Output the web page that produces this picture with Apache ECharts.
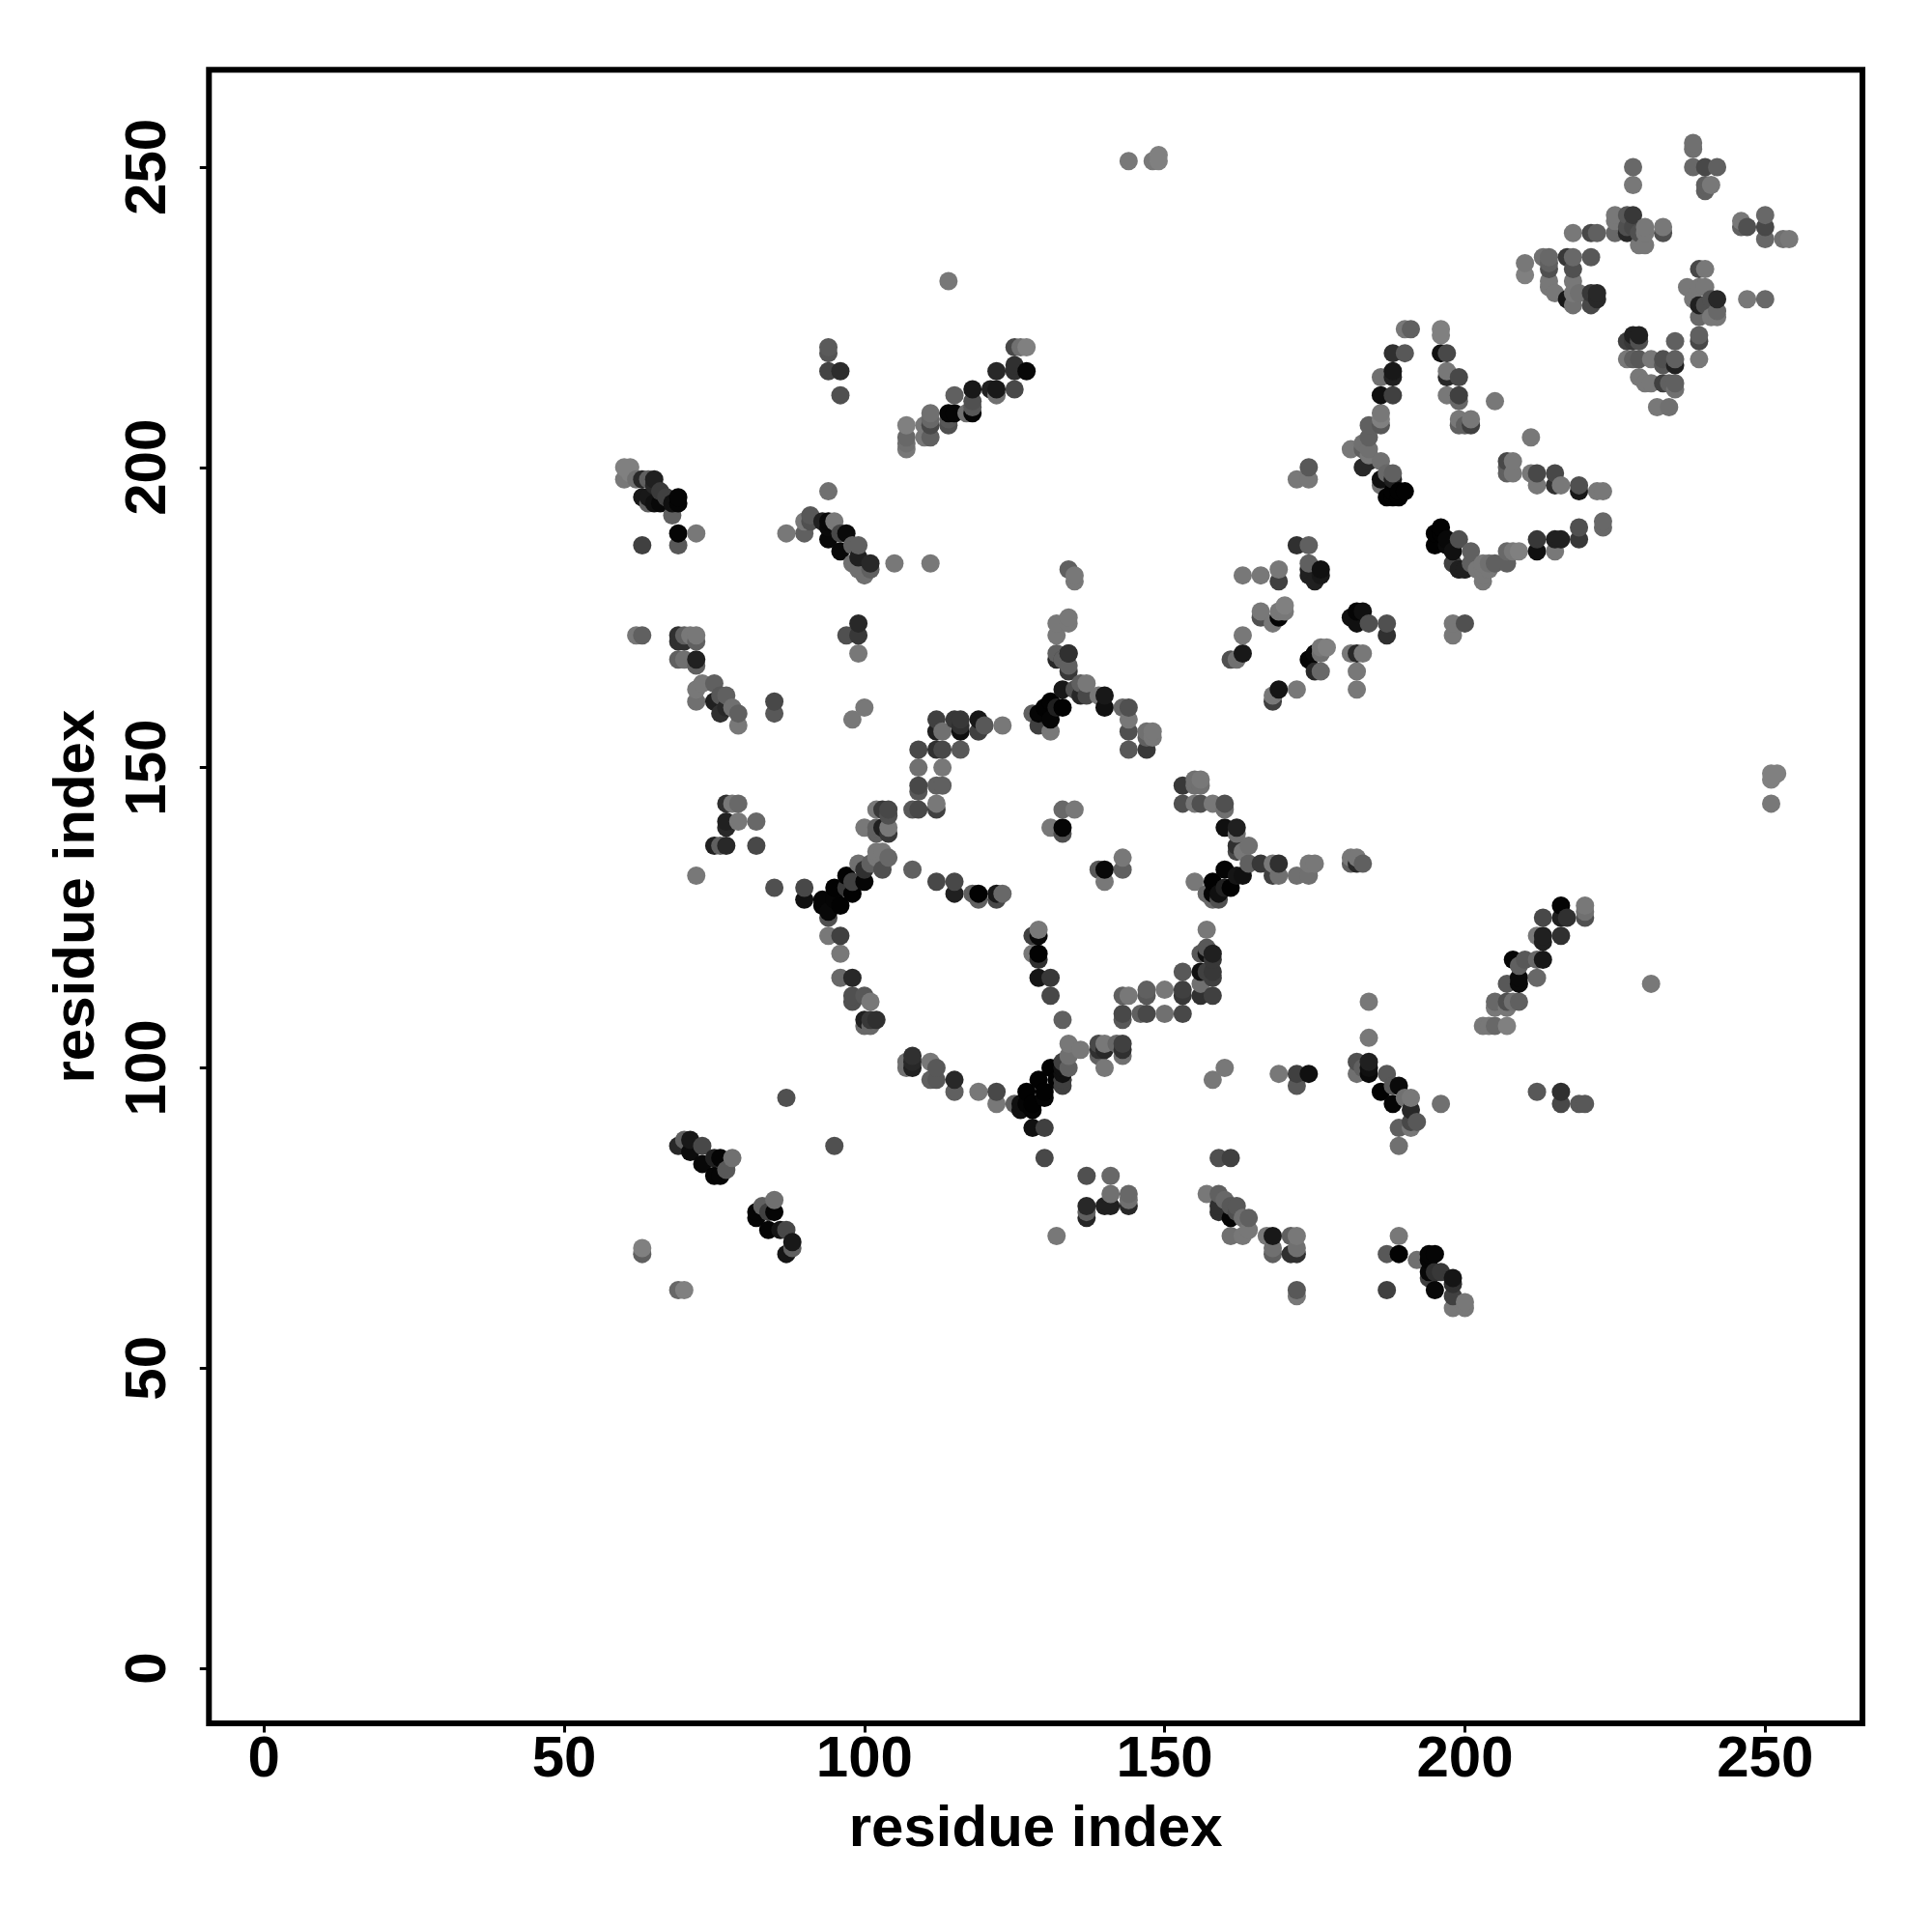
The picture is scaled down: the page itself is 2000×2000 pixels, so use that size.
<!DOCTYPE html>
<html><head><meta charset="utf-8">
<style>html,body{margin:0;background:#fff}#c{width:2000px;height:2000px}</style>
<script src="https://cdn.jsdelivr.net/npm/echarts@6/dist/echarts.min.js"></script>
</head><body><div id="c"></div>
<script>
const axisName = 'residue index';
const tickValues = [0, 50, 100, 150, 200, 250];

const residueX = [
114,94,94,94,96,96,125,126,127,122,
125,125,127,118,115,121,122,125,122,114,
115,118,118,118,117,111,111,111,114,114,
107,110,107,107,107,110,111,
60,61,60,61,62,63,64,65,65,66,
63,64,65,66,67,68,69,69,68,69,
72,63,69,64,
94,87,90,90,91,91,93,94,95,94,
94,96,97,96,98,99,98,99,101,101,
99,100,105,111,
144,148,149,149,210,210,190,191,196,196,
188,190,196,197,188,188,186,186,188,197,
197,199,197,199,199,205,199,199,200,201,
201,186,186,186,184,184,184,183,181,183,
183,184,184,186,188,187,186,188,186,190,
189,188,187,188,189,174,172,174,
196,195,195,196,197,197,199,198,201,207,
208,209,212,212,207,200,
238,238,238,240,242,240,241,240,228,228,
218,221,222,225,225,225,227,228,227,227,
228,229,230,230,229,230,233,233,
246,246,247,250,250,250,253,254,
213,214,214,214,214,214,215,
217,218,218,218,218,217,218,221,219,221,
222,222,221,
240,239,237,239,240,238,239,240,241,242,
242,239,242,241,247,250,
228,229,227,228,229,235,239,239,239,227,
228,229,231,233,235,235,233,229,230,231,
233,235,235,234,232,234,
211,207,208,207,208,207,211,212,212,215,
215,216,219,219,222,223,223,223,219,219,
215,216,215,205,204,203,204,203,199,199,
200,201,198,203,202,
62,63,69,69,70,70,72,72,71,69,
70,72,72,73,72,72,75,77,76,75,
76,78,79,79,77,85,85,
99,97,99,99,100,98,
112,112,113,115,116,116,116,119,119,120,
123,109,112,113,116,109,113,109,109,112,
113,108,109,112,112,
78,77,79,77,77,79,82,75,76,77,
82,72,85,90,90,
93,93,94,94,95,96,95,97,98,98,
99,100,100,101,102,103,104,103,102,97,
94,96,96,96,98,98,98,100,101,100,
100,101,101,102,
100,102,103,104,104,104,103,104,102,102,
108,112,115,115,118,119,119,122,123,122,
132,132,132,132,131,130,133,129,128,129,
131,131,132,131,133,133,133,
129,128,129,128,129,129,129,131,131,133,
134,135,135,134,134,134,133,133,134,134,
134,136,137,135,136,137,140,140,139,143,
144,144,144,144,147,147,147,148,148,133,
166,166,169,168,169,170,170,163,163,161,
162,168,169,168,172,174,175,176,177,176,
175,176,181,182,183,182,182,181,182,183,
182,184,187,187,198,200,198,203,
163,166,169,169,172,174,174,174,176,176,
174,175,
153,155,156,156,155,153,155,156,158,160,
160,160,162,162,164,163,162,162,164,166,
168,169,168,169,172,174,174,175,181,182,
181,183,182,155,158,160,158,159,161,162,
163,159,158,157,160,157,157,156,157,158,
158,153,156,157,158,158,156,153,153,156,
158,150,147,147,144,143,143,143,146,147,
150,153,143,143,140,139,140,135,
251,252,251,251,231,216,220,220,220,213,
216,217,213,213,212,216,208,210,213,212,
209,212,209,209,207,205,205,207,209,208,
207,203,205,207,204,212,216,216,219,220,
108,108,108,107,107,111,112,111,112,115,
115,119,122,122,125,126,127,128,127,126,
128,129,130,130,131,132,133,133,133,128,
130,130,87,95,
69,70,71,71,73,73,75,76,75,76,
78,77,82,82,83,84,85,85,87,88,
88,87,86,84,63,63,69,70,
160,158,169,172,174,172,184,184,182,184,
182,184,184,183,187,189,186,188,188,191,
190,191,192,191,189,189,196,191,
137,141,141,144,144,144,140,141,137,137,
137,132,159,161,157,159,160,159,162,161,
159,162,161,164,163,161,163,164,
167,168,168,168,171,172,172,171,172,172,
172,189,187,189,187,192,194,195,194,194,
195,196,194,198,198,195,198,198,200,200,
134,136,134,134,133,133,139,140,139,140,
140,139,142,143,143,143,133,133
];

const residueY = [
231,220,219,216,216,212,220,220,220,216,
217,216,216,213,212,213,213,213,212,209,
209,209,210,211,209,209,208,207,207,208,
207,207,205,203,204,205,205,
200,200,198,199,198,198,198,198,197,196,
195,195,194,194,195,194,195,194,192,189,
189,187,187,194,
196,189,189,191,191,192,191,191,191,190,
188,189,189,186,187,187,184,185,184,183,
183,182,184,184,
251,251,251,252,234,232,223,223,223,222,
219,219,219,219,216,215,215,212,212,216,
215,215,212,212,211,211,208,207,207,208,
207,209,208,207,207,205,203,204,203,203,
200,201,202,201,199,199,198,198,197,196,
196,196,195,195,195,200,198,198,
190,189,187,189,188,187,188,186,186,186,
186,186,188,186,184,183,
254,253,250,250,250,247,247,246,250,247,
239,239,239,242,241,239,242,242,239,240,
240,239,240,239,237,237,240,239,
241,240,240,242,240,238,238,238,
235,235,234,233,231,230,229,
235,235,233,231,229,228,227,235,229,229,
229,228,227,
233,233,230,230,230,228,227,227,228,228,
226,225,225,225,228,228,
222,222,221,221,221,221,222,221,218,218,
218,218,218,218,218,217,217,215,214,214,
214,214,213,214,210,210,
205,201,201,199,199,200,199,199,197,199,
197,197,197,196,196,196,191,190,190,188,
188,188,186,184,184,184,183,182,183,183,
183,184,184,183,183,
172,172,172,171,172,171,172,171,172,168,
168,168,167,164,163,161,164,162,162,161,
159,160,159,157,160,161,159,
174,172,172,169,160,158,
158,156,156,158,158,157,156,158,156,157,
157,153,153,153,153,150,150,147,146,147,
147,143,143,144,143,
144,144,144,141,140,141,141,137,137,137,
137,132,130,130,128,
128,127,126,125,130,127,128,132,129,131,
134,131,133,134,135,136,135,133,136,130,
122,122,119,115,115,112,111,112,111,108,
107,107,108,108,
140,143,143,143,142,140,140,139,140,139,
133,131,131,129,129,129,128,129,129,128,
174,172,169,168,161,160,163,159,159,157,
158,156,160,140,140,143,139,
123,122,122,119,119,118,115,115,112,108,
175,182,181,183,174,169,168,168,167,166,
169,164,164,163,162,162,162,160,162,160,
160,158,156,153,156,155,153,156,155,160,
176,175,175,174,176,177,176,172,169,168,
168,161,163,162,163,168,169,170,170,169,
166,166,169,169,169,166,163,175,176,176,
174,174,174,172,174,174,172,181,
182,182,183,181,187,187,184,183,183,182,
182,181,
147,148,148,147,147,144,144,144,144,144,
143,140,140,139,137,136,137,136,134,134,
134,134,132,132,132,132,134,134,135,135,
134,134,134,131,131,133,129,129,130,132,
132,128,128,129,130,123,120,119,119,119,
118,116,116,116,116,115,114,113,112,112,
112,113,113,112,112,112,109,108,109,109,
109,109,135,133,133,133,131,143,
149,149,148,144,114,127,127,126,125,125,
125,125,122,121,122,122,118,118,118,118,
117,115,115,114,114,111,110,111,111,111,
110,107,107,107,107,96,96,94,94,94,
102,101,100,101,100,101,100,98,98,98,
96,96,96,94,94,94,96,94,94,93,
93,98,96,95,100,98,101,100,98,90,
90,85,95,87,
87,88,88,86,87,84,82,82,85,85,
85,83,76,75,77,73,78,76,73,71,
70,69,73,76,70,69,63,63,
100,98,99,99,99,97,111,105,101,101,
99,100,99,100,99,97,96,94,97,95,
95,93,91,91,90,87,94,90,
82,82,79,79,78,77,77,77,77,76,
75,72,85,85,79,79,78,77,77,77,
76,76,75,75,75,72,72,73,
72,72,70,69,72,72,70,69,69,63,
62,72,69,69,63,68,69,69,68,66,
66,66,65,65,64,63,62,60,61,60,
104,103,102,100,99,97,104,104,103,103,
100,102,104,104,103,102,100,98
];

const shade = [
0x78,0x5a,0x55,0x44,0x2c,0x50,0x48,0x70,0x80,0x28,
0x30,0x30,0x08,0x18,0x60,0x20,0x18,0x48,0x70,0x05,
0x05,0x05,0x58,0x50,0x70,0x70,0x68,0x48,0x50,0x58,
0x80,0x78,0x68,0x78,0x70,0x78,0x60,
0x80,0x80,0x78,0x80,0x70,0x28,0x60,0x20,0x28,0x3a,
0x18,0x18,0x10,0x08,0x40,0x10,0x05,0x05,0x60,0x05,
0x78,0x40,0x58,0x60,
0x70,0x78,0x60,0x78,0x50,0x58,0x20,0x08,0x78,0x0a,
0x08,0x48,0x0a,0x08,0x60,0x60,0x70,0x20,0x28,0x60,
0x70,0x70,0x78,0x78,
0x78,0x78,0x80,0x80,0x78,0x80,0x78,0x60,0x80,0x80,
0x30,0x58,0x10,0x48,0x18,0x20,0x70,0x10,0x40,0x78,
0x28,0x48,0x78,0x40,0x68,0x78,0x78,0x60,0x60,0x78,
0x40,0x78,0x80,0x58,0x60,0x60,0x70,0x70,0x78,0x60,
0x28,0x28,0x78,0x70,0x60,0x68,0x10,0x20,0x70,0x02,
0x02,0x02,0x02,0x02,0x02,0x58,0x78,0x78,
0x02,0x02,0x02,0x02,0x08,0x0a,0x50,0x10,0x60,0x68,
0x78,0x80,0x38,0x10,0x60,0x20,
0x70,0x70,0x68,0x48,0x60,0x60,0x78,0x60,0x68,0x78,
0x78,0x48,0x60,0x78,0x78,0x68,0x58,0x38,0x28,0x50,
0x48,0x50,0x78,0x78,0x78,0x78,0x78,0x50,
0x78,0x60,0x50,0x68,0x48,0x68,0x70,0x78,
0x70,0x68,0x60,0x50,0x78,0x78,0x78,
0x38,0x68,0x50,0x78,0x78,0x18,0x70,0x58,0x70,0x38,
0x28,0x28,0x48,
0x78,0x48,0x78,0x78,0x78,0x78,0x20,0x50,0x50,0x28,
0x68,0x68,0x78,0x78,0x78,0x68,
0x20,0x20,0x40,0x38,0x50,0x60,0x60,0x48,0x78,0x78,
0x60,0x58,0x78,0x50,0x60,0x20,0x58,0x78,0x78,0x78,
0x40,0x60,0x70,0x60,0x78,0x70,
0x78,0x48,0x78,0x60,0x78,0x60,0x78,0x48,0x78,0x48,
0x30,0x78,0x50,0x18,0x78,0x78,0x68,0x68,0x50,0x38,
0x20,0x20,0x78,0x60,0x70,0x78,0x78,0x78,0x20,0x20,
0x20,0x60,0x40,0x78,0x78,
0x78,0x60,0x30,0x30,0x60,0x30,0x78,0x60,0x78,0x60,
0x70,0x20,0x60,0x78,0x78,0x70,0x60,0x60,0x58,0x20,
0x30,0x70,0x60,0x78,0x28,0x48,0x58,
0x28,0x50,0x38,0x78,0x78,0x78,
0x40,0x20,0x70,0x38,0x38,0x30,0x10,0x18,0x40,0x58,
0x78,0x48,0x30,0x48,0x58,0x70,0x78,0x48,0x58,0x60,
0x60,0x58,0x48,0x78,0x40,
0x78,0x30,0x68,0x20,0x28,0x78,0x68,0x20,0x60,0x28,
0x48,0x78,0x50,0x48,0x10,
0x05,0x05,0x08,0x50,0x02,0x02,0x05,0x02,0x02,0x40,
0x70,0x05,0x30,0x60,0x78,0x78,0x68,0x50,0x78,0x38,
0x78,0x40,0x78,0x68,0x28,0x50,0x50,0x58,0x78,0x20,
0x68,0x68,0x38,0x30,
0x78,0x78,0x38,0x48,0x50,0x78,0x20,0x38,0x60,0x60,
0x60,0x48,0x48,0x20,0x60,0x02,0x60,0x18,0x68,0x48,
0x78,0x78,0x60,0x28,0x02,0x02,0x18,0x05,0x60,0x40,
0x05,0x78,0x20,0x78,0x05,0x68,0x50,
0x78,0x40,0x08,0x78,0x02,0x30,0x15,0x38,0x48,0x60,
0x78,0x78,0x78,0x60,0x78,0x30,0x40,0x60,0x60,0x38,
0x30,0x60,0x78,0x50,0x28,0x48,0x18,0x10,0x78,0x68,
0x50,0x78,0x50,0x58,0x70,0x60,0x38,0x78,0x78,0x02,
0x78,0x50,0x05,0x78,0x78,0x80,0x78,0x78,0x18,0x50,
0x70,0x40,0x15,0x78,0x78,0x05,0x08,0x78,0x80,0x70,
0x28,0x68,0x78,0x28,0x78,0x78,0x78,0x10,0x05,0x10,
0x10,0x50,0x50,0x30,0x78,0x50,0x78,0x78,
0x78,0x78,0x78,0x40,0x30,0x60,0x60,0x20,0x10,0x18,
0x20,0x20,
0x38,0x70,0x78,0x70,0x70,0x50,0x78,0x50,0x78,0x50,
0x70,0x10,0x20,0x70,0x70,0x78,0x30,0x48,0x60,0x38,
0x78,0x30,0x40,0x70,0x70,0x70,0x78,0x78,0x78,0x78,
0x60,0x60,0x28,0x78,0x02,0x05,0x05,0x10,0x02,0x15,
0x10,0x50,0x68,0x68,0x20,0x78,0x58,0x58,0x10,0x20,
0x38,0x58,0x10,0x40,0x38,0x40,0x70,0x40,0x38,0x30,
0x40,0x78,0x60,0x58,0x78,0x60,0x48,0x58,0x60,0x48,
0x70,0x48,0x78,0x60,0x08,0x58,0x78,0x78,
0x80,0x80,0x80,0x78,0x78,0x05,0x78,0x70,0x50,0x48,
0x20,0x30,0x20,0x20,0x78,0x30,0x05,0x58,0x18,0x68,
0x60,0x68,0x0a,0x0a,0x58,0x68,0x78,0x50,0x60,0x70,
0x78,0x78,0x68,0x80,0x78,0x58,0x30,0x48,0x58,0x58,
0x30,0x28,0x20,0x70,0x70,0x78,0x58,0x60,0x58,0x28,
0x60,0x78,0x48,0x78,0x60,0x10,0x02,0x02,0x05,0x10,
0x05,0x02,0x02,0x05,0x02,0x02,0x40,0x10,0x40,0x10,
0x40,0x48,0x50,0x50,
0x28,0x60,0x18,0x0c,0x48,0x08,0x05,0x05,0x20,0x05,
0x70,0x58,0x05,0x05,0x60,0x05,0x70,0x05,0x48,0x18,
0x60,0x15,0x15,0x40,0x80,0x60,0x68,0x80,
0x78,0x78,0x78,0x40,0x10,0x58,0x78,0x78,0x50,0x20,
0x70,0x10,0x0a,0x60,0x58,0x0a,0x02,0x05,0x58,0x78,
0x70,0x28,0x58,0x48,0x60,0x70,0x70,0x78,
0x50,0x68,0x70,0x68,0x70,0x28,0x20,0x20,0x28,0x60,
0x25,0x78,0x50,0x40,0x78,0x60,0x68,0x30,0x58,0x58,
0x30,0x50,0x05,0x60,0x70,0x70,0x78,0x78,
0x78,0x18,0x70,0x60,0x60,0x78,0x70,0x30,0x30,0x58,
0x78,0x78,0x58,0x02,0x40,0x70,0x05,0x05,0x05,0x08,
0x30,0x38,0x40,0x15,0x30,0x08,0x40,0x78,0x78,0x78,
0x78,0x78,0x70,0x60,0x10,0x40,0x48,0x78,0x30,0x28,
0x78,0x60,0x68,0x40,0x30,0x70,0x10,0x40
];

const order = residueX.map((_, i) => i)
  .sort((a, b) => residueX[a] - residueX[b] || residueY[a] - residueY[b]);
const points = order.map(i => ({
  value: [residueX[i], residueY[i]],
  itemStyle: { color: `rgb(${shade[i]},${shade[i]},${shade[i]})`, opacity: 1 }
}));

const font = 'Liberation Sans';
const axisCommon = {
  type: 'value', min: -9.15, max: 266.2,
  name: axisName, nameLocation: 'middle',
  nameTextStyle: { fontFamily: font, fontWeight: 'bold', fontSize: 60, color: '#000' },
  splitLine: { show: false },
  axisLine: { show: false, onZero: false },
  axisTick: { show: true, length: 9.5, lineStyle: { color: '#000', width: 3 }, customValues: tickValues },
};
const chart = echarts.init(document.getElementById('c'), null, { renderer: 'canvas', width: 2000, height: 2000 });
chart.setOption({
  animation: false,
  backgroundColor: '#fff',
  grid: { show: true, left: 216.3, right: 72, top: 72.2, bottom: 216, borderColor: '#000', borderWidth: 6, backgroundColor: 'transparent' },
  xAxis: Object.assign({}, axisCommon, {
    nameGap: 80,
    axisLabel: { fontFamily: font, fontWeight: 'bold', fontSize: 60, color: '#000', margin: 8, customValues: tickValues, showMinLabel: true, showMaxLabel: true }
  }),
  yAxis: Object.assign({}, axisCommon, {
    nameGap: 106,
    axisLabel: { fontFamily: font, fontWeight: 'bold', fontSize: 60, color: '#000', margin: 62, rotate: 90, align: 'center', verticalAlign: 'middle', customValues: tickValues, showMinLabel: true, showMaxLabel: true }
  }),
  series: [{ type: 'scatter', symbol: 'circle', symbolSize: 19, data: points, silent: true, clip: false }]
});
</script></body></html>
